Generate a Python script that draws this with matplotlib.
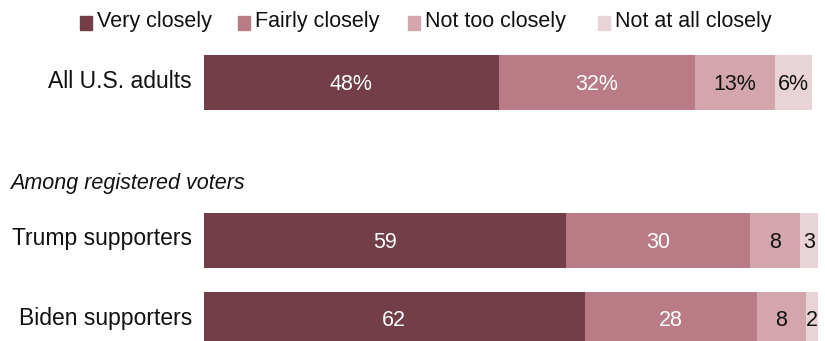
import matplotlib
matplotlib.use("Agg")
import matplotlib.pyplot as plt
from matplotlib.patches import Rectangle
from matplotlib.transforms import blended_transform_factory

# Survey responses: how closely people follow news about the candidates
categories = ["Very closely", "Fairly closely", "Not too closely", "Not at all closely"]
colors = ["#733e48", "#b97b86", "#d3a6ae", "#e8d3d7"]
text_colors = ["white", "white", "#111111", "#111111"]

groups = ["All U.S. adults", "Trump supporters", "Biden supporters"]
very_closely = [48, 59, 62]
fairly_closely = [32, 30, 28]
not_too_closely = [13, 8, 8]
not_at_all = [6, 3, 2]
label_suffix = ["%", "", ""]

# vertical centre of each bar in pixel rows (y axis runs top->bottom)
row_centers = [82.5, 240.5, 319.5]
bar_height = 55

FONT = "Liberation Sans"
W, H = 825, 341

fig = plt.figure(figsize=(W / 100, H / 100), dpi=100)
ax = fig.add_axes([204 / W, 0, 614 / W, 1])
ax.set_xlim(0, 100)
ax.set_ylim(H, 0)
ax.axis("off")

series = [very_closely, fairly_closely, not_too_closely, not_at_all]
for gi, group in enumerate(groups):
    left = 0
    for si, vals in enumerate(series):
        v = vals[gi]
        ax.barh(row_centers[gi], v, left=left, height=bar_height,
                color=colors[si], edgecolor="none", clip_on=False)
        ax.text(left + v / 2, row_centers[gi] + 1.5, f"{v}{label_suffix[gi]}",
                ha="center", va="center", color=text_colors[si],
                fontsize=15.5, family=FONT)
        left += v

# group labels to the left of the bars
lab_tr = blended_transform_factory(fig.transFigure, ax.transData)
for gi, group in enumerate(groups):
    ax.text(192 / W, row_centers[gi] - 1.5, group, transform=lab_tr, ha="right",
            va="center", fontsize=16.5, family=FONT, color="#111111", clip_on=False)

fig.text(10 / W, 1 - 183 / H, "Among registered voters", ha="left", va="center",
         fontsize=15.5, family=FONT, style="italic", color="#111111")

# legend row across the top
legend_x = [80, 238, 408, 598]
for x, name, col in zip(legend_x, categories, colors):
    fig.patches.append(Rectangle((x / W, 1 - 30 / H), 12 / W, 14 / H,
                                 transform=fig.transFigure, color=col))
    fig.text((x + 17) / W, 1 - 22 / H, name, ha="left", va="center",
             fontsize=15.5, family=FONT, color="#111111")

fig.savefig("out.png", dpi=100)
